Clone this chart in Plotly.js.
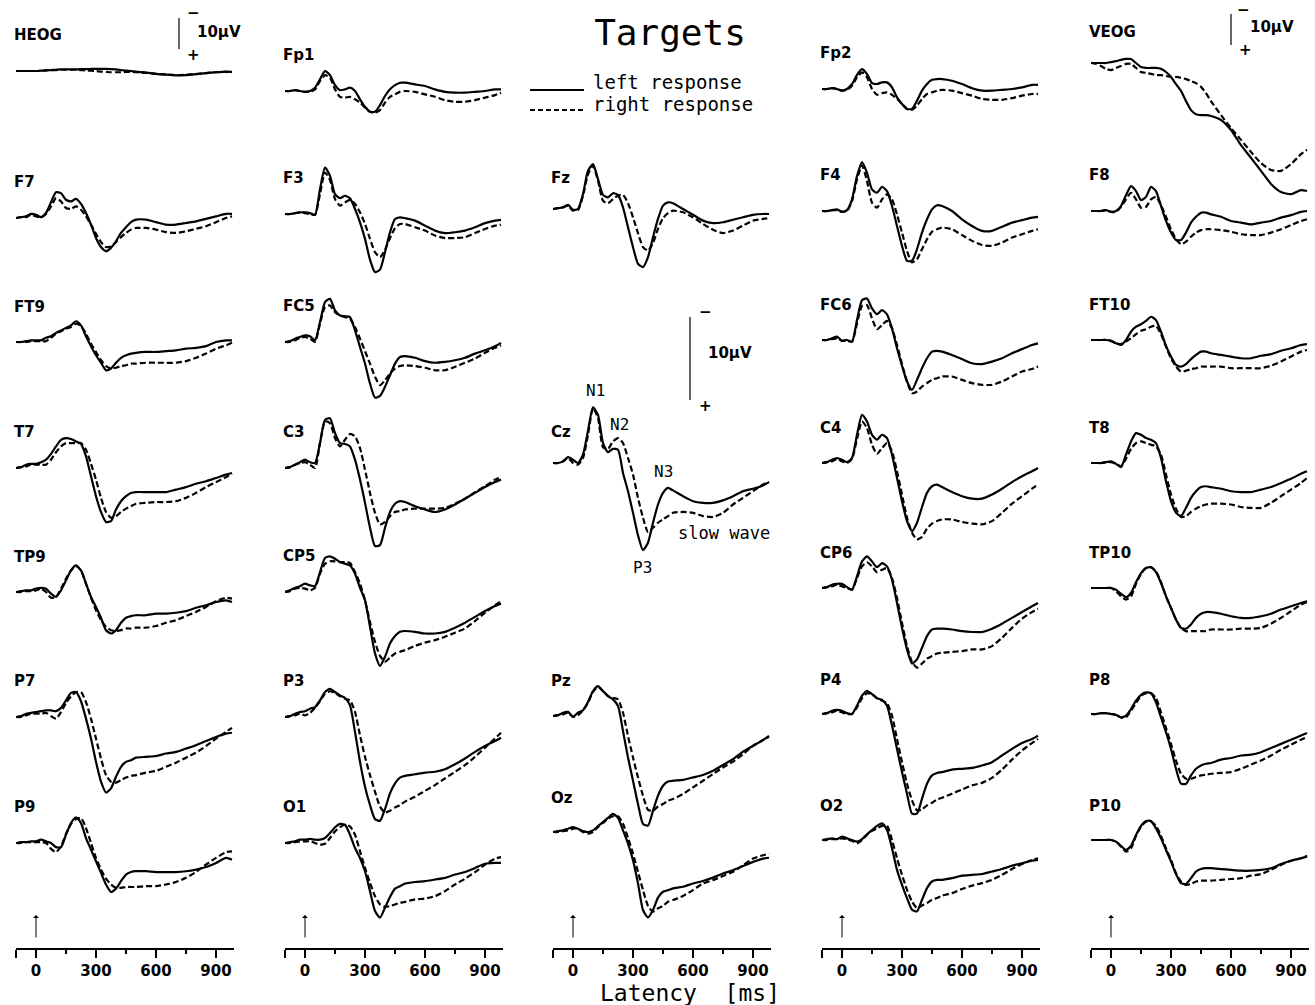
<!DOCTYPE html>
<html><head><meta charset="utf-8">
<script src="https://cdn.plot.ly/plotly-3.0.1.min.js"></script>
<style>html,body{margin:0;padding:0;background:#fff}</style>
</head><body>
<div id="chart" style="width:1315px;height:1005px"></div>
<script>
// ---------- DATA (µV, negative plotted upward) ----------
const latency = [-100,-75,-50,-25,0,25,50,75,100,125,150,175,200,225,250,275,300,325,350,375,400,425,450,475,500,550,600,650,700,750,800,850,900,950,980];
const latencyTicks = [0,300,600,900];
const latencyTickText = ['0','300','600','900'];
const scaleBarMicroVolt = 10;
const seriesNames = ['left response','right response'];

const HEOG_left  = [0,0,0,0,0, -0.1,-0.2,-0.3,-0.4,-0.5, -0.5,-0.5,-0.5,-0.6,-0.6, -0.7,-0.7,-0.7,-0.7,-0.6, -0.5,-0.3,-0.1,0,0.2, 0.5,0.9,1.2,1.4,1.3, 1,0.7,0.4,0.2,0.3];
const HEOG_right = [0,0,0,0,0, -0.1,-0.2,-0.3,-0.3,-0.4, -0.4,-0.4,-0.4,-0.3,-0.2, -0.1,0,0.2,0.3,0.4, 0.4,0.4,0.3,0.3,0.4, 0.6,0.9,1.1,1.3,1.2, 1,0.7,0.4,0.3,0.4];
const Fp1_left  = [0,0,-0.1,0,0.1, 0,-0.4,-1.4,-2.4,-1.9, -0.7,-0.1,-0.2,-0.4,0, 1,1.9,2.5,2.5,1.7, 0.6,-0.2,-0.7,-1,-1, -0.8,-0.6,-0.2,0.1,0.2, 0.2,0.1,0,-0.2,-0.2];
const Fp1_right = [0,0,-0.1,0,0.1, 0.1,-0.2,-1.2,-1.9,-1.6, -0.2,0.7,0.8,0.7,1, 1.4,2,2.5,2.6,2.3, 1.4,0.7,0.4,0.1,0, 0.1,0.4,0.7,1.1,1.3, 1.3,1.1,0.8,0.5,0.2];
const Fp2_left  = [0,0,-0.1,0,0.2, 0,-0.6,-1.7,-2.4,-1.8, -0.7,-0.6,-0.8,-0.8,-0.2, 1,1.8,2.4,2.4,1.4, 0.2,-0.6,-1.1,-1.2,-1.2, -1,-0.6,-0.1,0.2,0.2, 0.1,0,-0.2,-0.5,-0.5];
const Fp2_right = [0,0,-0.1,0,0.2, 0.1,-0.4,-1.4,-2,-1.4, 0,0.7,0.5,0.4,0.7, 1.2,1.8,2.4,2.5,2, 1.2,0.6,0.4,0.2,0.1, 0.2,0.5,0.8,1.2,1.3, 1.3,1.1,0.8,0.6,0.6];
const VEOG_left  = [0,0,0,0,-0.3, -0.6,-1,-1.3,-1.3,0, 1.3,1.6,1.6,1.6,1.9, 2.9,4.5,6.8,9,12.3, 15.2,16.5,16.8,16.8,17.1, 18.4,21.6,26.5,30.6,34.8, 39,41.6,42.3,41,41.3];
const VEOG_right = [0,0.3,1,1.9,2.3, 1.6,1,0.3,0.3,1.6, 2.9,3.2,3.5,3.9,3.9, 4.2,4.5,4.5,4.8,5.2, 5.8,6.5,7.7,9.7,12.3, 16.8,21,24.8,28.7,32.3, 34.5,34.8,32.6,29.4,28];
const F7_left  = [0,-0.1,-0.2,-0.5,-0.4, -0.1,-0.6,-1.9,-3.1,-3, -2.2,-2,-2.3,-1.7,-0.6, 0.8,2.4,3.5,4,3.6, 2.8,1.8,1.1,0.5,0.2, 0.2,0.5,0.8,0.8,0.6, 0.4,0.1,-0.2,-0.5,-0.5];
const F7_right = [0,-0.1,-0.1,-0.4,-0.2, -0.1,-0.5,-1.4,-2.4,-2, -1.2,-1.1,-1.4,-1,-0.2, 0.8,1.9,2.9,3.5,3.4, 2.9,2.3,1.8,1.4,1.2, 1.2,1.4,1.7,1.8,1.6, 1.3,1,0.5,0,-0.2];
const F3_left  = [0,0,-0.1,-0.2,-0.2, -0.1,0.1,-3,-5.6,-4.6, -2.4,-1.9,-2.2,-1.9,-0.6, 1,3,5.5,7,6.7, 4.6,2.2,0.6,0.4,0.5, 0.8,1.4,2,2.3,2.2, 2,1.6,1.1,0.8,0.7];
const F3_right = [0,0,-0.1,-0.2,-0.1, 0,0.1,-2.4,-5,-4.1, -1.8,-1,-1.4,-1.7,-1.2, -0.2,1.2,3,4.6,5.2, 4.3,2.9,1.7,1.2,1.2, 1.6,2,2.6,2.9,2.9, 2.8,2.3,1.8,1.4,1.3];
const Fz_left  = [0,-0.1,-0.2,-0.5,0.1, 0,-1.8,-4.6,-5.4,-3.6, -1.7,-1.4,-1.9,-1.7,-0.2, 2.2,4.6,6.6,7,5.8, 3.4,1.2,-0.4,-0.8,-0.7, 0,0.7,1.4,1.7,1.6, 1.3,1,0.7,0.6,0.6];
const Fz_right = [0,-0.1,-0.2,-0.4,0.2, 0.1,-1.6,-4.2,-5.2,-3.4, -1,-0.7,-1.2,-1.6,-1.7, -0.7,1,2.9,4.6,5, 4.1,2.4,1.1,0.5,0.2, 0.4,1,1.8,2.5,2.9, 2.6,2,1.4,1.2,1.1];
const F4_left  = [0,0,-0.1,-0.2,0.1, -0.1,-1.4,-4.2,-5.9,-4.6, -2.6,-2.2,-2.9,-2.4,-0.6, 1.8,4.2,6,6,4.6, 2.6,1,-0.2,-0.7,-0.6, 0,1,1.8,2.4,2.4, 1.9,1.4,1.1,0.8,0.7];
const F4_right = [0,0,-0.1,-0.1,0.1, 0,-1.2,-3.8,-5.5,-3.6, -1,-0.4,-1.4,-2,-1.4, 0.4,2.6,4.8,6.2,5.8, 4.6,3.4,2.5,2.2,2, 2.2,2.9,3.6,4.1,4.2, 3.8,3.2,2.8,2.4,2.2];
const F8_left  = [0,0,0,-0.1,0.1, 0,-0.6,-1.9,-3,-2.4, -1.3,-1.7,-2.9,-2.4,-0.6, 1.2,2.6,3.5,3.5,2.6, 1.4,0.7,0.2,0.2,0.4, 0.7,1.2,1.4,1.6,1.4, 1.2,0.8,0.5,0.1,0];
const F8_right = [0,0,0,-0.1,0.1, 0.1,-0.5,-1.4,-2.2,-1.4, -0.4,-0.5,-1.4,-1.7,-0.7, 0.7,2.2,3.4,4,3.7, 3.1,2.6,2.3,2.2,2.2, 2.3,2.5,2.8,2.9,2.9, 2.6,2.2,1.7,1.2,1];
const FT9_left  = [0,0,-0.1,-0.2,-0.2, -0.2,-0.5,-0.7,-1.1,-1.4, -1.7,-2,-2.5,-2,-0.7, 0.5,1.6,2.5,3.4,3.2, 2.5,1.9,1.6,1.4,1.3, 1.2,1.2,1.1,1,0.8, 0.7,0.5,0,-0.2,-0.2];
const FT9_right = [0,0,0,-0.1,-0.1, -0.1,-0.1,-0.5,-1,-1.3, -1.6,-1.8,-2.2,-1.9,-1, 0.2,1.2,2.2,2.9,3.2, 3.1,2.9,2.8,2.6,2.6, 2.5,2.5,2.5,2.5,2.3, 1.9,1.4,0.8,0.4,0.1];
const FC5_left  = [0,-0.1,-0.4,-0.6,-0.8, -0.7,-0.2,-2.4,-4.8,-5.2, -3.8,-3.2,-3.1,-3,-1.4, 0.6,2.6,5,6.7,6.5, 5.4,4,2.6,1.8,1.7, 1.9,2.3,2.5,2.4,2.2, 1.9,1.4,1,0.5,0.1];
const FC5_right = [0,0,-0.2,-0.5,-0.6, -0.4,0,-2.2,-4.2,-4.4, -3.6,-3.2,-3,-2.8,-1.8, -0.4,1.1,2.6,4.2,5.2, 4.6,3.8,3.2,2.9,2.8, 2.9,3.1,3.4,3.4,3, 2.5,2,1.3,0.7,0.4];
const FC6_left  = [0,0,-0.2,-0.4,0.1, 0,0.2,-2.4,-4.8,-5, -3.8,-3.1,-3.6,-3.1,-1.4, 1,3.1,5,6,4.8, 3.4,2.2,1.4,1.3,1.4, 1.8,2.3,2.8,2.9,2.6, 2.2,1.6,1.1,0.6,0.4];
const FC6_right = [0,0,-0.1,-0.2,0.1, 0.1,0.2,-2,-4.1,-4.2, -2.6,-1.3,-1.8,-2.3,-1.4, 0.6,2.9,5,6.4,6.2, 5.6,5.2,4.8,4.6,4.4, 4.4,4.8,5.2,5.4,5.4, 5,4.4,3.8,3.5,3.2];
const FT10_left  = [0,0,0,0,0.1, 0.4,0.6,0,-1,-1.6, -1.9,-2.3,-2.8,-2.4,-1, 0.7,2,3,3.2,2.9, 2.3,1.8,1.4,1.4,1.6, 1.8,2,2.2,2.2,1.9, 1.7,1.3,1,0.6,0.5];
const FT10_right = [0,0,0,0,0.1, 0.4,0.5,0.2,-0.2,-0.7, -1.1,-1.3,-1.6,-1.7,-0.7, 0.8,2.2,3.2,3.8,3.7, 3.5,3.4,3.2,3.2,3.2, 3.2,3.4,3.4,3.4,3.4, 3.1,2.6,2,1.4,1.2];
const T7_left  = [0,-0.1,-0.4,-0.5,-0.5, -0.7,-1,-1.7,-2.6,-3.4, -3.6,-3.5,-3.2,-2.9,-1.4, 1,3.4,5.3,6.5,6.4, 5,4,3.4,3,2.9, 2.9,2.9,2.9,2.6,2.3, 1.9,1.6,1.2,0.8,0.6];
const T7_right = [0,-0.1,-0.2,-0.4,-0.4, -0.4,-0.4,-1,-1.9,-2.6, -3,-3,-3,-3,-2.2, -0.5,1.4,3.6,5.3,6, 5.8,5.3,4.9,4.6,4.3, 4.2,4.1,4.1,4,3.6, 3,2.3,1.7,1.1,0.7];
const C3_left  = [0,-0.1,-0.4,-0.7,-1, -0.7,-0.6,-3,-5.8,-6, -4.2,-3,-2.9,-2.6,-1, 1.4,4.2,7.2,9.4,9.3, 7.2,5.3,4.3,4,4.1, 4.6,5,5.3,5,4.4, 3.7,3,2.3,1.7,1.4];
const C3_right = [0,-0.1,-0.4,-0.6,-0.7, -0.4,0,-3,-5.6,-5.4, -3.6,-2.6,-3.4,-4.1,-3.8, -2.4,0.2,3,5.4,6.8, 6.5,5.8,5.3,5.2,5, 4.9,4.9,4.9,4.8,4.3, 3.7,2.9,2.2,1.4,1.1];
const Cz_left  = [0,0,-0.2,-0.7,-0.4, 0,-1,-3.9,-6.7,-5.8, -2.4,-1.3,-1.7,-1.6,1.2, 3.4,6,8.7,10.5,9.6, 7.2,5,3.6,3,3.3, 4,4.6,4.8,4.8,4.5, 4,3.4,3.1,2.7,2.3];
const Cz_right = [0,0,-0.2,-0.6,0, 0.2,-0.6,-3.4,-6.6,-5.4, -1.9,-1.7,-2.6,-3,-2.4, -0.6,1.4,4.2,6.6,8.3, 7.8,7.2,6.8,6.4,6, 5.9,6,6.4,6.5,6, 5,4.2,3.4,2.6,2.3];
const C4_left  = [0,-0.1,-0.4,-0.6,-0.4, -0.1,-0.6,-3.4,-5.8,-5, -3.4,-2.8,-3.4,-3,-1, 1.8,4.6,7,8.2,7.2, 5.3,3.6,2.8,2.6,2.9, 3.5,4,4.3,4.3,3.8, 3.1,2.3,1.6,1,0.6];
const C4_right = [0,-0.1,-0.2,-0.5,-0.2, 0,-0.5,-2.9,-5,-4.2, -2.2,-1.1,-1.8,-2.4,-1.4, 1,3.8,6.6,8.4,9.2, 8.9,7.9,7.3,7,6.8, 6.8,7.1,7.3,7.4,7, 6,4.9,4,3.1,2.6];
const T8_left  = [0,0,0,-0.1,-0.2, 0.1,0.5,-1,-2.6,-3.6, -3.4,-3,-2.8,-2.4,-0.6, 2.2,4.6,6,6.4,5.4, 4.2,3.4,2.9,2.8,2.9, 3.1,3.4,3.5,3.5,3.2, 2.9,2.4,1.9,1.3,1];
const T8_right = [0,0,0,-0.1,-0.1, 0.1,0.4,-0.5,-1.7,-2.4, -2.6,-2.4,-2.2,-2,-1, 1.4,3.8,5.5,6.5,6.4, 5.9,5.5,5.2,5,4.9, 4.9,5,5.3,5.4,5.4, 4.8,4,3.2,2.4,1.8];
const TP9_left  = [0,-0.1,-0.2,-0.2,-0.4, -0.5,-0.4,0.2,0.6,-0.2, -1.4,-2.6,-3.2,-2.6,-1, 0.6,1.8,3.1,4.6,5, 4.6,3.7,3.1,2.9,2.8, 2.8,2.6,2.6,2.5,2.3, 1.9,1.6,1.2,1,1.2];
const TP9_right = [0,0,-0.1,-0.1,-0.2, -0.4,0,0.7,0.6,-0.4, -1.6,-2.6,-3.1,-2.6,-1, 0.7,2.2,3.4,4.2,4.6, 4.7,4.6,4.4,4.4,4.3, 4.3,4.1,3.7,3.4,2.9, 2.4,1.8,1.1,0.7,0.8];
const CP5_left  = [0,-0.2,-0.5,-0.7,-1, -0.8,-0.7,-2.4,-4.1,-4.3, -4,-3.6,-3.4,-3.2,-2.2, -0.5,1,4.2,7.4,8.9, 7.8,6.2,5.3,4.8,4.7, 4.8,5,5,4.8,4.3, 3.7,3,2.3,1.7,1.4];
const CP5_right = [0,-0.1,-0.4,-0.5,-0.4, -0.2,-0.5,-2.2,-3.4,-3.7, -3.7,-3.6,-3.6,-3.5,-2.4, -1,1,3.6,6,7.7, 8.4,7.9,7.4,7.2,7, 6.5,6.1,5.8,5.4,4.9, 4.4,3.5,2.5,1.6,1.1];
const CP6_left  = [0,-0.1,-0.4,-0.5,-0.5, -0.1,0.2,-1.4,-3.2,-3.8, -3.2,-2.5,-3,-2.6,-1, 1.8,4.8,7.4,9.1,8.6, 7.2,5.8,5,4.9,4.9, 5,5.2,5.3,5.3,4.9, 4.3,3.6,2.9,2.2,1.8];
const CP6_right = [0,-0.1,-0.2,-0.4,-0.2, 0,0.2,-1.2,-2.6,-3.1, -2.6,-1.9,-2.2,-2.4,-1.2, 1.2,4.2,7,8.9,9.6, 9.1,8.5,8.2,7.9,7.8, 7.7,7.6,7.4,7.4,7, 6,4.8,3.7,2.9,2.5];
const TP10_left  = [0,0,0,0,0, 0.2,0.7,1.1,0.6,-0.7, -1.8,-2.4,-2.5,-1.9,-0.6, 1,2.4,3.8,4.8,4.9, 4.4,3.6,3.1,2.9,2.9, 3.1,3.4,3.6,3.6,3.4, 3.1,2.6,2.2,1.8,1.6];
const TP10_right = [0,0,0,0,0, 0.4,1,1.4,1,-0.5, -1.7,-2.4,-2.5,-2,-0.7, 1,2.4,3.8,4.8,5.2, 5.2,5.2,5.2,5.2,5, 5,5,4.9,4.9,4.8, 4.3,3.6,2.8,2,1.7];
const P7_left  = [0,-0.1,-0.4,-0.5,-0.6, -0.7,-0.8,-0.8,-0.7,-1.1, -2,-2.9,-3,-1.9,0.2, 2.6,5.4,7.8,9.1,8.6, 7.2,6,5.4,5.2,4.9, 4.8,4.7,4.4,4.2,3.8, 3.4,2.9,2.4,2,1.9];
const P7_right = [0,0,-0.2,-0.4,-0.4, -0.4,-0.5,-0.1,0.2,-0.6, -1.7,-2.5,-3,-3,-1.8, 0.2,2.6,5,7,7.8, 7.9,7.6,7.3,7.1,7, 6.7,6.5,6,5.5,4.9, 4.3,3.5,2.6,1.8,1.3];
const P3_left  = [0,-0.1,-0.4,-0.6,-0.7, -1,-1.2,-2,-3,-3.4, -3,-2.6,-2.3,-1.4,1.8, 5.4,8.4,10.6,12.3,12.5, 11.1,9.2,8,7.3,7.1, 6.9,6.7,6.6,6.3,5.7, 5,4.2,3.5,2.9,2.5];
const P3_right = [0,-0.1,-0.2,-0.4,-0.2, -0.5,-1.1,-1.9,-2.8,-3.1, -2.9,-2.5,-2.2,-2,-0.6, 2.2,4.8,7,9,10.8, 11.5,11.3,10.9,10.6,10.2, 9.6,8.9,8.2,7.4,6.6, 5.8,4.8,3.7,2.6,1.9];
const Pz_left  = [0,-0.1,-0.4,-0.5,0.1, -0.4,-0.7,-1.7,-3,-3.6, -3,-2.4,-2,-1.2,1.8, 5,7.8,10.6,13,13.2, 11.4,9.6,8.4,7.9,7.8, 7.7,7.4,7.1,6.6,5.9, 5.2,4.3,3.6,2.9,2.4];
const Pz_right = [0,-0.1,-0.2,-0.4,0.1, -0.1,-0.7,-1.6,-2.9,-3.5, -3,-2.4,-2.2,-2,-0.4, 2.4,5,7.4,9.6,11.3, 11.4,10.9,10.6,10.2,10, 9.4,8.6,7.8,7,6.2, 5.5,4.6,3.6,2.9,2.5];
const P4_left  = [0,-0.1,-0.4,-0.5,-0.4, -0.1,0,-1,-2.2,-2.8, -2.4,-1.9,-1.7,-1,1.4, 4.2,7,9.6,12,12, 10.2,8.4,7.4,7.1,7, 6.7,6.6,6.5,6.2,5.8, 5,4.2,3.5,3,2.6];
const P4_right = [0,-0.1,-0.2,-0.4,-0.2, 0,0,-0.8,-1.9,-2.5, -2.4,-1.9,-1.6,-1.3,0.2, 3,5.8,8.4,10.4,11.6, 11.5,11,10.7,10.3,10.1, 9.6,9.1,8.6,8.3,7.7, 6.7,5.5,4.4,3.5,3];
const P8_left  = [0,0,-0.1,-0.1,0, 0.1,0.4,0.2,-0.6,-1.6, -2.3,-2.6,-2.5,-1.4,0.4, 2.2,4.2,6.6,8.4,8.4, 7.4,6.6,6.2,6,5.9, 5.5,5.3,5,4.9,4.6, 4.1,3.6,3.1,2.6,2.3];
const P8_right = [0,0,-0.1,-0.1,0, 0.1,0.4,0.4,-0.4,-1.3, -2.2,-2.5,-2.5,-1.9,-0.2, 1.7,3.6,5.6,7.2,7.8, 7.8,7.6,7.4,7.3,7.2, 7.1,7,6.6,6.1,5.6, 5,4.3,3.7,3.1,2.8];
const P9_left  = [0,-0.1,-0.1,-0.2,-0.2, -0.4,-0.2,0,0.5,0.5, -1,-2.4,-3.1,-2.4,-0.6, 0.8,2.2,3.6,5,5.9, 5.5,4.6,3.8,3.5,3.4, 3.4,3.5,3.5,3.5,3.4, 3.2,2.9,2.4,1.8,2];
const P9_right = [0,0,-0.1,-0.1,-0.1, -0.1,0,0.7,1.1,0.4, -1.1,-2.3,-2.9,-3,-1.8, 0,1.8,3.2,4.3,5, 5.4,5.4,5.3,5.3,5.3, 5.2,5.2,5,4.7,4.2, 3.5,2.6,1.8,1.1,1];
const O1_left  = [0,-0.1,-0.2,-0.4,-0.4, -0.5,-0.4,-0.4,-0.6,-1.2, -1.9,-2.3,-2.2,-1,0.6, 1.8,3.4,5.8,8.2,9, 7.8,6.5,5.5,5.2,4.9, 4.7,4.6,4.4,4.2,3.8, 3.5,3,2.5,2.4,2.4];
const O1_right = [0,0,-0.1,-0.2,-0.2, -0.2,0,0.2,0.1,-0.6, -1.4,-1.9,-2.2,-2,-1, 1,3,4.8,6.4,7.4, 7.7,7.6,7.4,7.2,7.1, 6.8,6.7,6.4,5.8,5, 4.3,3.5,2.6,1.9,1.7];
const Oz_left  = [0,-0.1,-0.2,-0.4,-0.6, -0.4,-0.1,0,-0.2,-0.7, -1.2,-1.7,-2.2,-1.7,-0.2, 1.4,3.4,6.2,9.4,10.3, 9.4,7.9,7.2,7,6.8, 6.6,6.2,5.9,5.5,5, 4.6,4.1,3.6,3.2,3.1];
const Oz_right = [0,0,-0.1,-0.2,-0.4, -0.4,0,0.2,0,-0.6, -1.1,-1.6,-1.9,-1.9,-1, 0.7,2.6,4.8,7,8.9, 9.6,9.2,8.9,8.4,8.2, 7.7,7,6.2,5.8,5.3, 4.8,4,3.2,2.8,2.6];
const O2_left  = [0,-0.1,-0.2,-0.1,-0.4, -0.2,0,0.2,-0.1,-0.7, -1.2,-1.7,-2,-1.2,1, 3.6,5.4,7,8.4,8.6, 7.2,5.8,5,4.8,4.8, 4.6,4.3,4.2,4.1,3.8, 3.5,3.1,2.8,2.5,2.4];
const O2_right = [0,0,-0.1,-0.1,-0.2, -0.1,0.1,0.4,0,-0.6, -1.1,-1.4,-1.7,-1.7,0, 2.2,4.2,6,7.4,8.2, 7.9,7.6,7.2,7,6.7, 6.4,5.9,5.5,5.2,4.8, 4.2,3.5,2.9,2.4,2.2];
const P10_left  = [0,0,0,0,0, 0.2,0.7,1.2,0.7,-0.6, -1.7,-2.3,-2.3,-1.4,-0.2, 1.2,2.6,4.1,5.2,5.3, 4.6,3.8,3.5,3.4,3.4, 3.5,3.6,3.7,3.7,3.6, 3.4,2.9,2.5,2.2,2];
const P10_right = [0,0,0,0,0, 0.2,0.8,1.4,1,-0.5, -1.6,-2.2,-2.2,-1.7,-0.5, 1,2.4,4,5,5.4, 5.3,5,4.9,4.9,4.9, 4.8,4.7,4.6,4.3,4.1, 3.6,3,2.5,2.2,1.9];

// ---------- LAYOUT CONFIG ----------
const W = 1315, H = 1005;
const COL_ZERO = [36, 305, 573, 842, 1111];   // pixel of 0 ms in each column
const PX_PER_MS = 0.2;
const K_EEG = 8.3, K_EOG = 3.1;               // px per µV
const AXIS_Y = 948;

const series = {
  HEOG:[HEOG_left,HEOG_right], Fp1:[Fp1_left,Fp1_right], Fp2:[Fp2_left,Fp2_right], VEOG:[VEOG_left,VEOG_right],
  F7:[F7_left,F7_right], F3:[F3_left,F3_right], Fz:[Fz_left,Fz_right], F4:[F4_left,F4_right], F8:[F8_left,F8_right],
  FT9:[FT9_left,FT9_right], FC5:[FC5_left,FC5_right], FC6:[FC6_left,FC6_right], FT10:[FT10_left,FT10_right],
  T7:[T7_left,T7_right], C3:[C3_left,C3_right], Cz:[Cz_left,Cz_right], C4:[C4_left,C4_right], T8:[T8_left,T8_right],
  TP9:[TP9_left,TP9_right], CP5:[CP5_left,CP5_right], CP6:[CP6_left,CP6_right], TP10:[TP10_left,TP10_right],
  P7:[P7_left,P7_right], P3:[P3_left,P3_right], Pz:[Pz_left,Pz_right], P4:[P4_left,P4_right], P8:[P8_left,P8_right],
  P9:[P9_left,P9_right], O1:[O1_left,O1_right], Oz:[Oz_left,Oz_right], O2:[O2_left,O2_right], P10:[P10_left,P10_right]
};

// name, column, baseline px, label y px, eog?, bottom row?
const PANELS = [
  ['HEOG',0,71,35,true],['Fp1',1,91,55],['Fp2',3,89,53],['VEOG',4,63,32,true],
  ['F7',0,218,182],['F3',1,214,178],['Fz',2,209,178],['F4',3,211,175],['F8',4,211,175],
  ['FT9',0,342,307],['FC5',1,342,306],['FC6',3,340,305],['FT10',4,340,305],
  ['T7',0,468,432],['C3',1,468,432],['Cz',2,463,432],['C4',3,463,428],['T8',4,463,428],
  ['TP9',0,592,557],['CP5',1,592,556],['CP6',3,588,553],['TP10',4,588,553],
  ['P7',0,717,681],['P3',1,717,681],['Pz',2,716,681],['P4',3,714,680],['P8',4,714,680],
  ['P9',0,843,807,false,true],['O1',1,843,807,false,true],['Oz',2,832,798,false,true],['O2',3,840,806,false,true],['P10',4,840,806,false,true]
];

const FONT_LABEL = {family:'DejaVu Sans', size:15, color:'#000', weight:'bold'};
const FONT_MONO = {family:'DejaVu Sans Mono', color:'#000'};
const LINE_SOLID = {color:'#000', width:2.2, shape:'spline', smoothing:0.6};
const LINE_DASH = {color:'#000', width:2.2, dash:'6px,3px', shape:'spline', smoothing:0.6};

const traces = [];
const layout = {
  width:W, height:H, margin:{l:0,r:0,t:0,b:0}, paper_bgcolor:'#fff', plot_bgcolor:'rgba(0,0,0,0)',
  showlegend:false,
  title:{text:'Targets', x:670/W, xanchor:'center', y:1-32/H, yanchor:'middle', xref:'paper', yref:'paper',
         font:{family:'DejaVu Sans Mono', size:36, color:'#000'}},
  annotations:[], shapes:[]
};

const axisRef = {};
PANELS.forEach((p,i)=>{
  const [name,col,base,labelY,eog,bottom] = p;
  const n = i+1;
  const xa = n===1?'x':'x'+n, ya = n===1?'y':'y'+n;
  const xk = n===1?'xaxis':'xaxis'+n, yk = n===1?'yaxis':'yaxis'+n;
  axisRef[name] = {xa, ya};
  const k = eog?K_EOG:K_EEG;
  const X0 = COL_ZERO[col];
  const topPx = Math.max(0, base-160), botPx = Math.min(H, base+160);
  const xrange = [-100, 990];
  layout[xk] = {domain:[(X0+xrange[0]*PX_PER_MS)/W, (X0+xrange[1]*PX_PER_MS)/W], range:xrange,
                visible:false, showgrid:false, zeroline:false, fixedrange:true, anchor:ya};
  layout[yk] = {domain:[1-botPx/H, 1-topPx/H], range:[(botPx-base)/k, -(base-topPx)/k],
                visible:false, showgrid:false, zeroline:false, fixedrange:true, anchor:xa};
  if (bottom) {
    Object.assign(layout[xk], {
      visible:true, anchor:'free', position:1-AXIS_Y/H, showline:true, linecolor:'#000', linewidth:1.5,
      ticks:'outside', ticklen:8, tickwidth:1.5, tickcolor:'#000',
      tickmode:'array', tickvals:[-100].concat(latencyTicks), ticktext:[''].concat(latencyTickText),
      tickfont:{family:'DejaVu Sans', size:15, color:'#000', weight:'bold'},
      minor:{tickmode:'array', tickvals:[150,450,750], ticks:'outside', ticklen:4, tickwidth:1.5, tickcolor:'#000', showgrid:false}
    });
    layout.annotations.push({xref:xa, yref:'paper', x:0, y:1-915/H, ax:0, ay:24, text:'',
      showarrow:true, arrowhead:1, arrowsize:1, arrowwidth:1, arrowcolor:'#000'});
  }
  const [L,R] = series[name];
  traces.push({x:latency, y:L, xaxis:xa, yaxis:ya, type:'scatter', mode:'lines', name:seriesNames[0],
    hoverinfo:'skip', line:LINE_SOLID});
  traces.push({x:latency, y:R, xaxis:xa, yaxis:ya, type:'scatter', mode:'lines', name:seriesNames[1],
    hoverinfo:'skip', line:LINE_DASH});
  layout.annotations.push({xref:'paper', yref:'paper', x:(X0-24)/W, y:1-labelY/H, xanchor:'left', yanchor:'middle',
    text:name, showarrow:false, font:FONT_LABEL});
});

// legend (sample line + text), paper px
const LEGEND_ROWS = [[90, 82, 'solid'], [110, 104, '5px,3px']];
LEGEND_ROWS.forEach(([ly,ty,dash],j)=>{
  layout.shapes.push({type:'line', xref:'paper', yref:'paper', x0:530/W, x1:584/W, y0:1-ly/H, y1:1-ly/H,
    line:{color:'#000', width:2, dash:dash}});
  layout.annotations.push({xref:'paper', yref:'paper', x:591/W, y:1-ty/H, xanchor:'left', yanchor:'middle',
    text:seriesNames[j], showarrow:false, font:Object.assign({size:19},FONT_MONO)});
});

// scale bars (10 µV) : [panel, latency position of bar, top of bar µV]
const SCALE_BARS = [['HEOG',715,-17.1],['VEOG',600,-15.8],['Cz',585,-17.6]];
SCALE_BARS.forEach(([name,t,top])=>{
  const {xa,ya} = axisRef[name];
  layout.shapes.push({type:'line', xref:xa, yref:ya, x0:t, x1:t, y0:top, y1:top+scaleBarMicroVolt,
    line:{color:'#000', width:1.2}});
});
const SB_TEXT = [[193,13,'\u2212'],[219,32,'10\u00b5V'],[193,55,'+'],
                 [1243,10,'\u2212'],[1272,27,'10\u00b5V'],[1245,50,'+'],
                 [705,312,'\u2212'],[730,353,'10\u00b5V'],[705,406,'+']];
SB_TEXT.forEach(([x,y,t])=>layout.annotations.push({xref:'paper',yref:'paper',x:x/W,y:1-y/H,text:t,showarrow:false,
  xanchor:'center',yanchor:'middle',font:FONT_LABEL}));

// component annotations on Cz
const CZ_TEXT = [[595,390,'N1'],[619,425,'N2'],[663,471,'N3'],[642,567,'P3'],[724,533,'slow wave']];
CZ_TEXT.forEach(([x,y,t])=>layout.annotations.push({xref:'paper',yref:'paper',x:x/W,y:1-y/H,text:t,showarrow:false,
  xanchor:'center',yanchor:'middle',font:Object.assign({size:t.length>3?17:16},FONT_MONO)}));

layout.annotations.push({xref:'paper',yref:'paper',x:690/W,y:1-993/H,text:'Latency\u00a0\u00a0[ms]',showarrow:false,
  xanchor:'center',yanchor:'middle',font:Object.assign({size:23},FONT_MONO)});

Plotly.newPlot('chart', traces, layout, {displayModeBar:false, staticPlot:true});
</script>
</body></html>
